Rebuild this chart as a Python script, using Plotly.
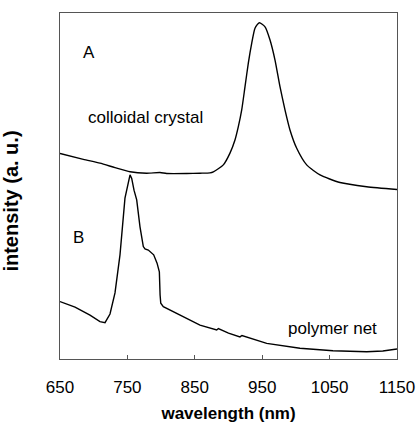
import plotly.graph_objects as go

# Curve A: colloidal crystal (wavelength nm, normalized intensity)
a_wl = [650, 684.6, 709.3, 731.6, 753.9, 778.6, 798.4, 808.3, 838, 857.7, 872.5, 877.5,
        892.3, 902.2, 909.6, 914.5, 919.6, 924.5, 929.4, 934.4, 939.3, 945.7, 954.2,
        961.6, 969, 976.4, 983.8, 991.2, 1001.2, 1016, 1035.8, 1065.4, 1105, 1150]
a_int = [0.594, 0.577, 0.566, 0.553, 0.541, 0.537, 0.539, 0.536, 0.536, 0.537, 0.538, 0.541,
         0.561, 0.595, 0.633, 0.671, 0.720, 0.787, 0.855, 0.912, 0.956, 0.972, 0.960,
         0.922, 0.864, 0.787, 0.720, 0.662, 0.609, 0.561, 0.532, 0.510, 0.498, 0.490]

# Curve B: polymer net
b_wl = [650, 672.3, 694.5, 709.3, 716.8, 724.2, 731.6, 739, 746.4, 750.9, 753.9, 756.4,
        759.8, 763.8, 768.7, 773.6, 776.1, 781, 785, 789, 794, 797.4, 798.5, 799.5,
        803.3, 828, 857.7, 882.5, 885, 900, 917, 920, 956.7, 1006, 1055, 1105, 1129, 1150]
b_int = [0.166, 0.150, 0.127, 0.108, 0.105, 0.130, 0.191, 0.301, 0.465, 0.512, 0.532, 0.522,
         0.488, 0.460, 0.382, 0.325, 0.318, 0.315, 0.309, 0.301, 0.277, 0.252, 0.185, 0.161,
         0.151, 0.127, 0.098, 0.084, 0.088, 0.075, 0.064, 0.068, 0.045, 0.031, 0.024, 0.021, 0.023, 0.029]

x_ticks = [650, 750, 850, 950, 1050, 1150]

FONT = "Liberation Sans, Arial, sans-serif"

fig = go.Figure()
fig.add_trace(go.Scatter(x=a_wl, y=a_int, mode="lines", line=dict(color="black", width=1.4, shape="spline", smoothing=0.6), name="A"))
fig.add_trace(go.Scatter(x=b_wl, y=b_int, mode="lines", line=dict(color="black", width=1.4), name="B"))

ann_font = dict(family=FONT, size=17, color="black")
common = dict(xref="paper", yref="paper", showarrow=False, font=ann_font, xanchor="center", yanchor="middle")
fig.add_annotation(x=0.085, y=0.885, text="A", **common)
fig.add_annotation(x=0.255, y=0.699, text="colloidal crystal", **common)
fig.add_annotation(x=0.056, y=0.352, text="B", **common)
fig.add_annotation(x=0.81, y=0.087, text="polymer net", **common)
# y-axis title
fig.add_annotation(x=0, y=0.455, xshift=-49, text="<b>intensity (a. u.)</b>", textangle=-90,
                   xref="paper", yref="paper", showarrow=False, xanchor="center", yanchor="middle",
                   font=dict(family=FONT, size=20, color="black"))

fig.update_layout(
    width=417, height=423,
    margin=dict(l=60, r=20, t=13, b=64),
    paper_bgcolor="white", plot_bgcolor="white",
    showlegend=False,
    font=dict(family=FONT, color="black"),
)
fig.update_xaxes(
    range=[650, 1150], tickvals=x_ticks, ticktext=[str(v) for v in x_ticks],
    ticks="inside", ticklen=4, tickcolor="#555", showgrid=False, zeroline=False,
    showline=True, linecolor="#555", linewidth=1, mirror=True, automargin=False,
    tickfont=dict(family=FONT, size=17), ticklabelstandoff=13,
    title=dict(text="<b>wavelength (nm)</b>", font=dict(family=FONT, size=17), standoff=25),
)
fig.update_yaxes(
    range=[0, 1], showticklabels=False, ticks="", showgrid=False, zeroline=False,
    showline=True, linecolor="#555", linewidth=1, mirror=True, automargin=False,
)
fig.write_html(
    "out.html",
    config={"displayModeBar": False, "staticPlot": True},
    post_script="document.body.style.margin='0';document.body.style.overflow='hidden';",
)
